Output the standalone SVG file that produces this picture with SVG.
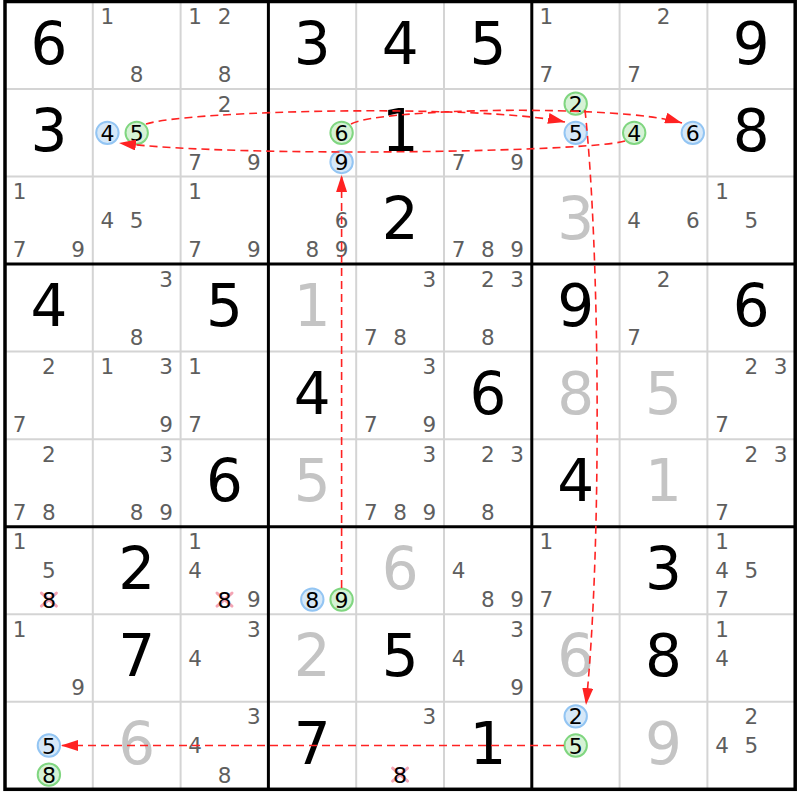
<svg xmlns="http://www.w3.org/2000/svg" width="800" height="800" viewBox="0 0 800 800">
<style>
text { font-family: "DejaVu Sans", Verdana, sans-serif; text-anchor: middle; }
.g { font-size: 58px; fill: #000; }
.s { font-size: 58px; fill: #c4c4c4; }
.c { font-size: 21.5px; fill: #5e5e5e; }
.k { font-size: 22px; fill: #000; }
.cb { fill: #d6e8f8; stroke: #93c5f3; stroke-width: 2; }
.cg { fill: #d6f2d6; stroke: #80d680; stroke-width: 2; }
.x { stroke: #f4a4b4; stroke-width: 3; stroke-linecap: round; }
.thin { stroke: #d4d4d4; stroke-width: 2; }
.thick { stroke: #000; stroke-width: 3; }
.link { fill: none; stroke: #ff2222; stroke-width: 1.6; stroke-dasharray: 8 5; }
</style>
<defs>
<marker id="arr" markerUnits="userSpaceOnUse" markerWidth="17" markerHeight="11" refX="17" refY="5.5" orient="auto" viewBox="0 0 17 11">
<path d="M0,0 L17,5.5 L0,11 z" fill="#ff2222"/>
</marker>
</defs>
<rect x="0" y="0" width="800" height="800" fill="#fff"/>
<g id="grid">
<g class="thin">
<line x1="92.8" y1="1.5" x2="92.8" y2="789.3"/>
<line x1="180.6" y1="1.5" x2="180.6" y2="789.3"/>
<line x1="356.2" y1="1.5" x2="356.2" y2="789.3"/>
<line x1="444" y1="1.5" x2="444" y2="789.3"/>
<line x1="619.6" y1="1.5" x2="619.6" y2="789.3"/>
<line x1="707.4" y1="1.5" x2="707.4" y2="789.3"/>
<line x1="5" y1="89.03" x2="795.2" y2="89.03"/>
<line x1="5" y1="176.56" x2="795.2" y2="176.56"/>
<line x1="5" y1="351.62" x2="795.2" y2="351.62"/>
<line x1="5" y1="439.15" x2="795.2" y2="439.15"/>
<line x1="5" y1="614.21" x2="795.2" y2="614.21"/>
<line x1="5" y1="701.74" x2="795.2" y2="701.74"/>
</g>
<g class="thick">
<line x1="268.4" y1="1.5" x2="268.4" y2="789.3"/>
<line x1="531.8" y1="1.5" x2="531.8" y2="789.3"/>
<line x1="5" y1="264.09" x2="795.2" y2="264.09"/>
<line x1="5" y1="526.68" x2="795.2" y2="526.68"/>
<rect x="5" y="1.5" width="790.2" height="787.8" fill="none" stroke-width="3.5"/>
</g>
</g>

<!-- Row 0 -->
<g id="r0c0" transform="translate(5,1.5)"><text class="g" x="43.9" y="62">6</text></g>
<g id="r0c1" transform="translate(92.8,1.5)"><text class="c" x="14.6" y="22.5">1</text><text class="c" x="43.9" y="80.8">8</text></g>
<g id="r0c2" transform="translate(180.6,1.5)"><text class="c" x="14.6" y="22.5">1</text><text class="c" x="43.9" y="22.5">2</text><text class="c" x="43.9" y="80.8">8</text></g>
<g id="r0c3" transform="translate(268.4,1.5)"><text class="g" x="43.9" y="62">3</text></g>
<g id="r0c4" transform="translate(356.2,1.5)"><text class="g" x="43.9" y="62">4</text></g>
<g id="r0c5" transform="translate(444,1.5)"><text class="g" x="43.9" y="62">5</text></g>
<g id="r0c6" transform="translate(531.8,1.5)"><text class="c" x="14.6" y="22.5">1</text><text class="c" x="14.6" y="80.8">7</text></g>
<g id="r0c7" transform="translate(619.6,1.5)"><text class="c" x="43.9" y="22.5">2</text><text class="c" x="14.6" y="80.8">7</text></g>
<g id="r0c8" transform="translate(707.4,1.5)"><text class="g" x="43.9" y="62">9</text></g>

<!-- Row 1 -->
<g id="r1c0" transform="translate(5,89.03)"><text class="g" x="43.9" y="62">3</text></g>
<g id="r1c1" transform="translate(92.8,89.03)"><circle class="cb" cx="14.6" cy="43.8" r="11.2"/><text class="k" x="14.6" y="51.8">4</text><circle class="cg" cx="43.9" cy="43.8" r="11.2"/><text class="k" x="43.9" y="51.8">5</text></g>
<g id="r1c2" transform="translate(180.6,89.03)"><text class="c" x="43.9" y="22.5">2</text><text class="c" x="14.6" y="80.8">7</text><text class="c" x="73.2" y="80.8">9</text></g>
<g id="r1c3" transform="translate(268.4,89.03)"><circle class="cg" cx="73.2" cy="43.8" r="11.2"/><text class="k" x="73.2" y="51.8">6</text><circle class="cb" cx="73.2" cy="72.9" r="11.2"/><text class="k" x="73.2" y="80.9">9</text></g>
<g id="r1c4" transform="translate(356.2,89.03)"><text class="g" x="43.9" y="62">1</text></g>
<g id="r1c5" transform="translate(444,89.03)"><text class="c" x="14.6" y="80.8">7</text><text class="c" x="73.2" y="80.8">9</text></g>
<g id="r1c6" transform="translate(531.8,89.03)"><circle class="cg" cx="43.9" cy="14.6" r="11.2"/><text class="k" x="43.9" y="22.6">2</text><circle class="cb" cx="43.9" cy="43.8" r="11.2"/><text class="k" x="43.9" y="51.8">5</text></g>
<g id="r1c7" transform="translate(619.6,89.03)"><circle class="cg" cx="14.6" cy="43.8" r="11.2"/><text class="k" x="14.6" y="51.8">4</text><circle class="cb" cx="73.2" cy="43.8" r="11.2"/><text class="k" x="73.2" y="51.8">6</text></g>
<g id="r1c8" transform="translate(707.4,89.03)"><text class="g" x="43.9" y="62">8</text></g>

<!-- Row 2 -->
<g id="r2c0" transform="translate(5,176.56)"><text class="c" x="14.6" y="22.5">1</text><text class="c" x="14.6" y="80.8">7</text><text class="c" x="73.2" y="80.8">9</text></g>
<g id="r2c1" transform="translate(92.8,176.56)"><text class="c" x="14.6" y="51.7">4</text><text class="c" x="43.9" y="51.7">5</text></g>
<g id="r2c2" transform="translate(180.6,176.56)"><text class="c" x="14.6" y="22.5">1</text><text class="c" x="14.6" y="80.8">7</text><text class="c" x="73.2" y="80.8">9</text></g>
<g id="r2c3" transform="translate(268.4,176.56)"><text class="c" x="73.2" y="51.7">6</text><text class="c" x="43.9" y="80.8">8</text><text class="c" x="73.2" y="80.8">9</text></g>
<g id="r2c4" transform="translate(356.2,176.56)"><text class="g" x="43.9" y="62">2</text></g>
<g id="r2c5" transform="translate(444,176.56)"><text class="c" x="14.6" y="80.8">7</text><text class="c" x="43.9" y="80.8">8</text><text class="c" x="73.2" y="80.8">9</text></g>
<g id="r2c6" transform="translate(531.8,176.56)"><text class="s" x="43.9" y="62">3</text></g>
<g id="r2c7" transform="translate(619.6,176.56)"><text class="c" x="14.6" y="51.7">4</text><text class="c" x="73.2" y="51.7">6</text></g>
<g id="r2c8" transform="translate(707.4,176.56)"><text class="c" x="14.6" y="22.5">1</text><text class="c" x="43.9" y="51.7">5</text></g>

<!-- Row 3 -->
<g id="r3c0" transform="translate(5,264.09)"><text class="g" x="43.9" y="62">4</text></g>
<g id="r3c1" transform="translate(92.8,264.09)"><text class="c" x="73.2" y="22.5">3</text><text class="c" x="43.9" y="80.8">8</text></g>
<g id="r3c2" transform="translate(180.6,264.09)"><text class="g" x="43.9" y="62">5</text></g>
<g id="r3c3" transform="translate(268.4,264.09)"><text class="s" x="43.9" y="62">1</text></g>
<g id="r3c4" transform="translate(356.2,264.09)"><text class="c" x="73.2" y="22.5">3</text><text class="c" x="14.6" y="80.8">7</text><text class="c" x="43.9" y="80.8">8</text></g>
<g id="r3c5" transform="translate(444,264.09)"><text class="c" x="43.9" y="22.5">2</text><text class="c" x="73.2" y="22.5">3</text><text class="c" x="43.9" y="80.8">8</text></g>
<g id="r3c6" transform="translate(531.8,264.09)"><text class="g" x="43.9" y="62">9</text></g>
<g id="r3c7" transform="translate(619.6,264.09)"><text class="c" x="43.9" y="22.5">2</text><text class="c" x="14.6" y="80.8">7</text></g>
<g id="r3c8" transform="translate(707.4,264.09)"><text class="g" x="43.9" y="62">6</text></g>

<!-- Row 4 -->
<g id="r4c0" transform="translate(5,351.62)"><text class="c" x="43.9" y="22.5">2</text><text class="c" x="14.6" y="80.8">7</text></g>
<g id="r4c1" transform="translate(92.8,351.62)"><text class="c" x="14.6" y="22.5">1</text><text class="c" x="73.2" y="22.5">3</text><text class="c" x="73.2" y="80.8">9</text></g>
<g id="r4c2" transform="translate(180.6,351.62)"><text class="c" x="14.6" y="22.5">1</text><text class="c" x="14.6" y="80.8">7</text></g>
<g id="r4c3" transform="translate(268.4,351.62)"><text class="g" x="43.9" y="62">4</text></g>
<g id="r4c4" transform="translate(356.2,351.62)"><text class="c" x="73.2" y="22.5">3</text><text class="c" x="14.6" y="80.8">7</text><text class="c" x="73.2" y="80.8">9</text></g>
<g id="r4c5" transform="translate(444,351.62)"><text class="g" x="43.9" y="62">6</text></g>
<g id="r4c6" transform="translate(531.8,351.62)"><text class="s" x="43.9" y="62">8</text></g>
<g id="r4c7" transform="translate(619.6,351.62)"><text class="s" x="43.9" y="62">5</text></g>
<g id="r4c8" transform="translate(707.4,351.62)"><text class="c" x="43.9" y="22.5">2</text><text class="c" x="73.2" y="22.5">3</text><text class="c" x="14.6" y="80.8">7</text></g>

<!-- Row 5 -->
<g id="r5c0" transform="translate(5,439.15)"><text class="c" x="43.9" y="22.5">2</text><text class="c" x="14.6" y="80.8">7</text><text class="c" x="43.9" y="80.8">8</text></g>
<g id="r5c1" transform="translate(92.8,439.15)"><text class="c" x="73.2" y="22.5">3</text><text class="c" x="43.9" y="80.8">8</text><text class="c" x="73.2" y="80.8">9</text></g>
<g id="r5c2" transform="translate(180.6,439.15)"><text class="g" x="43.9" y="62">6</text></g>
<g id="r5c3" transform="translate(268.4,439.15)"><text class="s" x="43.9" y="62">5</text></g>
<g id="r5c4" transform="translate(356.2,439.15)"><text class="c" x="73.2" y="22.5">3</text><text class="c" x="14.6" y="80.8">7</text><text class="c" x="43.9" y="80.8">8</text><text class="c" x="73.2" y="80.8">9</text></g>
<g id="r5c5" transform="translate(444,439.15)"><text class="c" x="43.9" y="22.5">2</text><text class="c" x="73.2" y="22.5">3</text><text class="c" x="43.9" y="80.8">8</text></g>
<g id="r5c6" transform="translate(531.8,439.15)"><text class="g" x="43.9" y="62">4</text></g>
<g id="r5c7" transform="translate(619.6,439.15)"><text class="s" x="43.9" y="62">1</text></g>
<g id="r5c8" transform="translate(707.4,439.15)"><text class="c" x="43.9" y="22.5">2</text><text class="c" x="73.2" y="22.5">3</text><text class="c" x="14.6" y="80.8">7</text></g>

<!-- Row 6 -->
<g id="r6c0" transform="translate(5,526.68)"><text class="c" x="14.6" y="22.5">1</text><text class="c" x="43.9" y="51.7">5</text><path class="x" d="M36.4,66.4 L51.4,79.4 M51.4,66.4 L36.4,79.4"/><text class="k" x="43.9" y="80.9">8</text></g>
<g id="r6c1" transform="translate(92.8,526.68)"><text class="g" x="43.9" y="62">2</text></g>
<g id="r6c2" transform="translate(180.6,526.68)"><text class="c" x="14.6" y="22.5">1</text><text class="c" x="14.6" y="51.7">4</text><path class="x" d="M36.4,66.4 L51.4,79.4 M51.4,66.4 L36.4,79.4"/><text class="k" x="43.9" y="80.9">8</text><text class="c" x="73.2" y="80.8">9</text></g>
<g id="r6c3" transform="translate(268.4,526.68)"><circle class="cb" cx="43.9" cy="72.9" r="11.2"/><text class="k" x="43.9" y="80.9">8</text><circle class="cg" cx="73.2" cy="72.9" r="11.2"/><text class="k" x="73.2" y="80.9">9</text></g>
<g id="r6c4" transform="translate(356.2,526.68)"><text class="s" x="43.9" y="62">6</text></g>
<g id="r6c5" transform="translate(444,526.68)"><text class="c" x="14.6" y="51.7">4</text><text class="c" x="43.9" y="80.8">8</text><text class="c" x="73.2" y="80.8">9</text></g>
<g id="r6c6" transform="translate(531.8,526.68)"><text class="c" x="14.6" y="22.5">1</text><text class="c" x="14.6" y="80.8">7</text></g>
<g id="r6c7" transform="translate(619.6,526.68)"><text class="g" x="43.9" y="62">3</text></g>
<g id="r6c8" transform="translate(707.4,526.68)"><text class="c" x="14.6" y="22.5">1</text><text class="c" x="14.6" y="51.7">4</text><text class="c" x="43.9" y="51.7">5</text><text class="c" x="14.6" y="80.8">7</text></g>

<!-- Row 7 -->
<g id="r7c0" transform="translate(5,614.21)"><text class="c" x="14.6" y="22.5">1</text><text class="c" x="73.2" y="80.8">9</text></g>
<g id="r7c1" transform="translate(92.8,614.21)"><text class="g" x="43.9" y="62">7</text></g>
<g id="r7c2" transform="translate(180.6,614.21)"><text class="c" x="73.2" y="22.5">3</text><text class="c" x="14.6" y="51.7">4</text></g>
<g id="r7c3" transform="translate(268.4,614.21)"><text class="s" x="43.9" y="62">2</text></g>
<g id="r7c4" transform="translate(356.2,614.21)"><text class="g" x="43.9" y="62">5</text></g>
<g id="r7c5" transform="translate(444,614.21)"><text class="c" x="73.2" y="22.5">3</text><text class="c" x="14.6" y="51.7">4</text><text class="c" x="73.2" y="80.8">9</text></g>
<g id="r7c6" transform="translate(531.8,614.21)"><text class="s" x="43.9" y="62">6</text></g>
<g id="r7c7" transform="translate(619.6,614.21)"><text class="g" x="43.9" y="62">8</text></g>
<g id="r7c8" transform="translate(707.4,614.21)"><text class="c" x="14.6" y="22.5">1</text><text class="c" x="14.6" y="51.7">4</text></g>

<!-- Row 8 -->
<g id="r8c0" transform="translate(5,701.74)"><circle class="cb" cx="43.9" cy="43.8" r="11.2"/><text class="k" x="43.9" y="51.8">5</text><circle class="cg" cx="43.9" cy="72.9" r="11.2"/><text class="k" x="43.9" y="80.9">8</text></g>
<g id="r8c1" transform="translate(92.8,701.74)"><text class="s" x="43.9" y="62">6</text></g>
<g id="r8c2" transform="translate(180.6,701.74)"><text class="c" x="73.2" y="22.5">3</text><text class="c" x="14.6" y="51.7">4</text><text class="c" x="43.9" y="80.8">8</text></g>
<g id="r8c3" transform="translate(268.4,701.74)"><text class="g" x="43.9" y="62">7</text></g>
<g id="r8c4" transform="translate(356.2,701.74)"><text class="c" x="73.2" y="22.5">3</text><path class="x" d="M36.4,66.4 L51.4,79.4 M51.4,66.4 L36.4,79.4"/><text class="k" x="43.9" y="80.9">8</text></g>
<g id="r8c5" transform="translate(444,701.74)"><text class="g" x="43.9" y="62">1</text></g>
<g id="r8c6" transform="translate(531.8,701.74)"><circle class="cb" cx="43.9" cy="14.6" r="11.2"/><text class="k" x="43.9" y="22.6">2</text><circle class="cg" cx="43.9" cy="43.8" r="11.2"/><text class="k" x="43.9" y="51.8">5</text></g>
<g id="r8c7" transform="translate(619.6,701.74)"><text class="s" x="43.9" y="62">9</text></g>
<g id="r8c8" transform="translate(707.4,701.74)"><text class="c" x="43.9" y="22.5">2</text><text class="c" x="14.6" y="51.7">4</text><text class="c" x="43.9" y="51.7">5</text></g>

<g id="connectors">
<path class="link" marker-end="url(#arr)" d="M341.6,588 L341.6,175"/>
<path class="link" marker-end="url(#arr)" d="M351,124 C380,108 620,104 682,123"/>
<path class="link" marker-end="url(#arr)" d="M625,141 C590,152 240,158 119,143"/>
<path class="link" marker-end="url(#arr)" d="M146,124 C190,110 480,104 565,122"/>
<path class="link" marker-end="url(#arr)" d="M585,110 C600,250 602,550 586,705"/>
<path class="link" marker-end="url(#arr)" d="M564,745.5 L61,745.5"/>
</g>
</svg>
